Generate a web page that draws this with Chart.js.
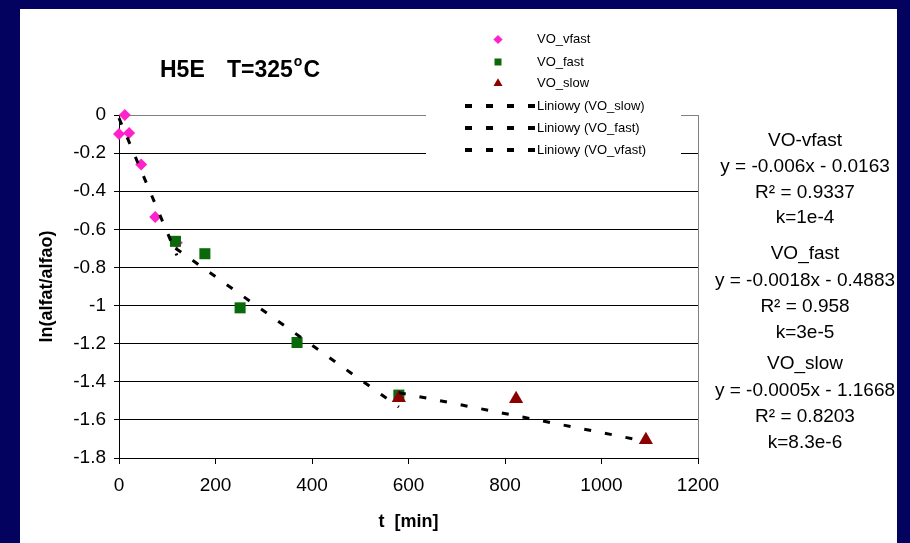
<!DOCTYPE html>
<html>
<head>
<meta charset="utf-8">
<script src="https://cdn.jsdelivr.net/npm/chart.js@4.4.1/dist/chart.umd.min.js"></script>
<style>
  html, body { margin: 0; padding: 0; background: #03035f; }
  canvas { display: block; }
</style>
</head>
<body>
<canvas id="c" width="910" height="543"></canvas>
<script>
// Measured points: t [min] vs ln(alfat/alfao)
const vfastT = [0, 12, 21, 46, 75, 120];
const vfastY = [-0.10, 0.00, -0.095, -0.26, -0.535, -0.67];
const fastT = [117, 178, 251, 369, 580];
const fastY = [-0.663, -0.728, -1.012, -1.194, -1.47];
const slowT = [580, 823, 1092];
const slowY = [-1.485, -1.49, -1.705];

// Linear fits (as reported next to the plot)
const seriesNames = ['VO_vfast', 'VO_fast', 'VO_slow'];
const fitNames = ['VO-vfast', 'VO_fast', 'VO_slow'];
const fitSlope = [-0.006, -0.0018, -0.0005];
const fitIntercept = [-0.0163, -0.4883, -1.1668];
const fitR2 = ['0.9337', '0.958', '0.8203'];
const fitK = ['1e-4', '3e-5', '8.3e-6'];
const trendNames = ['Liniowy (VO_slow)', 'Liniowy (VO_fast)', 'Liniowy (VO_vfast)'];

// Axis ticks
const xTicks = [0, 200, 400, 600, 800, 1000, 1200];
const yTicks = [0, -0.2, -0.4, -0.6, -0.8, -1, -1.2, -1.4, -1.6, -1.8];

const FONT = '"Liberation Sans", Arial, sans-serif';
const colors = ['#ff22cc', '#0a6a0a', '#8b0000'];
const shapes = ['rectRot', 'rect', 'triangle'];
const radii = [6, 7.8, 8.2];

const pts = (xs, ys) => xs.map((x, i) => ({ x, y: ys[i] }));
const series = [pts(vfastT, vfastY), pts(fastT, fastY), pts(slowT, slowY)];

// Fitted line over the time range of each series, straight from the equation
function fitLine(i) {
  const xs = series[i].map(p => p.x);
  const a = Math.min(...xs), b = Math.max(...xs);
  return [a, b].map(x => ({ x, y: fitSlope[i] * x + fitIntercept[i] }));
}

const datasets = [];
series.forEach((data, i) => {
  datasets.push({
    label: seriesNames[i],
    data,
    showLine: false,
    pointStyle: shapes[i],
    pointRadius: radii[i],
    pointBackgroundColor: colors[i],
    pointBorderColor: colors[i],
    pointBorderWidth: 0,
    clip: false,
    order: 3 - i
  });
});
[2, 1, 0].forEach((i, j) => {
  datasets.push({
    label: trendNames[j],
    data: fitLine(i),
    showLine: true,
    borderColor: '#000',
    borderWidth: 3,
    borderDash: [7, 14],
    borderCapStyle: 'butt',
    pointRadius: 0,
    clip: false,
    order: 0
  });
});

// Panel background, title, legend and fit annotations
const decor = {
  id: 'decor',
  beforeDraw(chart) {
    const ctx = chart.ctx;
    ctx.save();
    ctx.fillStyle = '#03035f';
    ctx.fillRect(0, 0, chart.width, chart.height);
    ctx.fillStyle = '#ffffff';
    ctx.fillRect(20, 9, 877, 534);
    ctx.restore();
  },
  afterDraw(chart) {
    const ctx = chart.ctx;
    ctx.save();

    // title
    ctx.fillStyle = '#000';
    ctx.textBaseline = 'alphabetic';
    ctx.textAlign = 'left';
    ctx.font = 'bold 23px ' + FONT;
    ctx.fillText('H5E', 160, 77);
    let x = 227;
    ctx.fillText('T=325', x, 77);
    x += ctx.measureText('T=325').width + 1;
    ctx.font = 'bold 14px ' + FONT;
    ctx.fillText('o', x, 66);
    x += ctx.measureText('o').width + 1;
    ctx.font = 'bold 23px ' + FONT;
    ctx.fillText('C', x, 77);

    // legend
    ctx.fillStyle = '#fff';
    ctx.fillRect(426, 18, 255, 147);
    const mx = 498, tx = 537;
    const rows = [39.5, 62, 83.5];
    const lrows = [106, 128, 150];
    ctx.font = '13px ' + FONT;
    ctx.textBaseline = 'middle';
    rows.forEach((y, i) => {
      ctx.fillStyle = colors[i];
      ctx.beginPath();
      if (i === 0) {
        const r = 4.6;
        ctx.moveTo(mx, y - r); ctx.lineTo(mx + r, y); ctx.lineTo(mx, y + r); ctx.lineTo(mx - r, y);
      } else if (i === 1) {
        ctx.rect(mx - 3.5, y - 3.5, 7, 7);
      } else {
        const r = 5.2;
        ctx.moveTo(mx, y - r);
        ctx.lineTo(mx + r * 0.866, y + r * 0.5);
        ctx.lineTo(mx - r * 0.866, y + r * 0.5);
      }
      ctx.closePath();
      ctx.fill();
      ctx.fillStyle = '#000';
      ctx.fillText(seriesNames[i], tx, y);
    });
    lrows.forEach((y, j) => {
      ctx.strokeStyle = '#000';
      ctx.lineWidth = 4;
      ctx.setLineDash([7, 14]);
      ctx.beginPath();
      ctx.moveTo(465, y);
      ctx.lineTo(535, y);
      ctx.stroke();
      ctx.setLineDash([]);
      ctx.fillStyle = '#000';
      ctx.fillText(trendNames[j], tx, y);
    });

    // fit annotations
    ctx.font = '19px ' + FONT;
    ctx.textAlign = 'center';
    ctx.textBaseline = 'alphabetic';
    const cx = 805;
    const base = [[146, 172, 198, 223], [259, 286, 312, 338], [369, 396, 422, 448]];
    base.forEach((b, i) => {
      const eq = 'y = ' + String(fitSlope[i]) + 'x - ' + String(Math.abs(fitIntercept[i]));
      ctx.fillText(fitNames[i], cx, b[0]);
      ctx.fillText(eq, cx, b[1]);
      ctx.fillText('R\u00b2 = ' + fitR2[i], cx, b[2]);
      ctx.fillText('k=' + fitK[i], cx, b[3]);
    });
    ctx.restore();
  }
};

new Chart(document.getElementById('c'), {
  type: 'scatter',
  data: { datasets },
  options: {
    responsive: false,
    animation: false,
    layout: { padding: { left: 0, top: 115, right: 212, bottom: 0 } },
    plugins: { legend: { display: false }, tooltip: { enabled: false } },
    scales: {
      x: {
        type: 'linear',
        min: 0,
        max: 1200,
        afterBuildTicks: s => { s.ticks = xTicks.map(v => ({ value: v })); },
        afterFit: s => { s.height = 85; },
        ticks: {
          color: '#000',
          font: { family: FONT, size: 19 },
          padding: 10,
          maxRotation: 0,
          autoSkip: false,
          callback: v => String(v)
        },
        grid: {
          color: c => (c.tick && c.tick.value === 1200) ? '#808080' : 'rgba(0,0,0,0)',
          tickColor: '#000',
          tickLength: 6
        },
        border: { color: '#000', width: 1 },
        title: {
          display: true,
          text: 't  [min]',
          color: '#000',
          font: { family: FONT, size: 18, weight: 'bold' },
          padding: { top: 0, bottom: 10 }
        }
      },
      y: {
        type: 'linear',
        min: -1.8,
        max: 0,
        afterBuildTicks: s => { s.ticks = yTicks.map(v => ({ value: v })); },
        afterFit: s => { s.width = 119; },
        ticks: {
          color: '#000',
          font: { family: FONT, size: 19 },
          padding: 8,
          autoSkip: false,
          callback: v => (Math.abs(v) < 1e-9 ? '0' : String(Number(v.toFixed(1))))
        },
        grid: {
          color: c => (c.tick && Math.abs(c.tick.value) < 1e-9) ? '#808080' : '#000',
          tickColor: '#000',
          tickLength: 5
        },
        border: { color: '#000', width: 1 },
        title: {
          display: true,
          text: 'ln(alfat/alfao)',
          color: '#000',
          font: { family: FONT, size: 18, weight: 'bold' },
          padding: { top: 36, bottom: 0 }
        }
      }
    }
  },
  plugins: [decor]
});
</script>
</body>
</html>
